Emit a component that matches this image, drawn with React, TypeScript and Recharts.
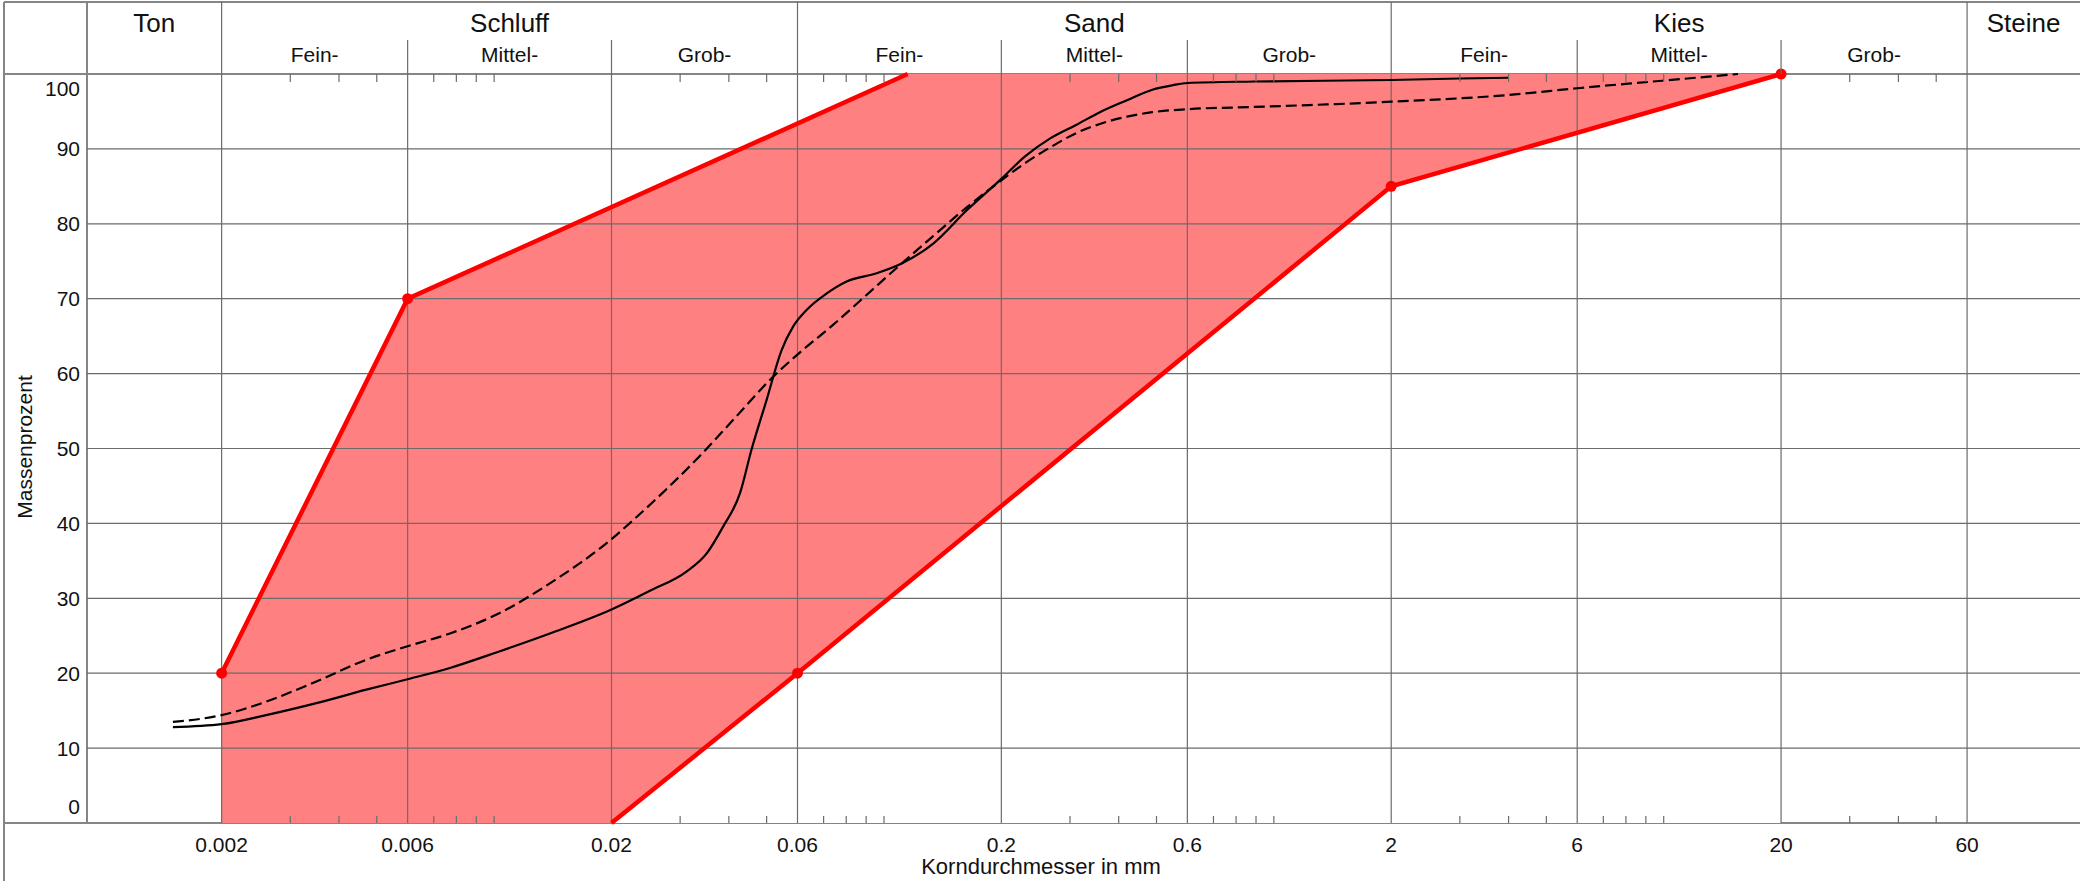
import { ComposedChart, XAxis, YAxis, Line, Area, Scatter, ReferenceLine, Customized } from "recharts";

const FONT = '"Liberation Sans", Arial, Helvetica, sans-serif';
const GRID = "#6b6b6b";
const FRAME = "#858585";

// Achsenbereich (log), so wie im Original abgeschnitten
const X_MIN = 0.000903;
const X_MAX = 116.9;
const PLOT_TOP = 74;
const PLOT_BOTTOM = 823;

// Kornfraktionen
const mainBounds = [0.002, 0.06, 2, 60];
const subBounds = [0.006, 0.02, 0.2, 0.6, 6, 20];
const xLabels = [0.002, 0.006, 0.02, 0.06, 0.2, 0.6, 2, 6, 20, 60];
const minorTicks = [
	0.003, 0.004, 0.005, 0.007, 0.008, 0.009, 0.01, 0.03, 0.04, 0.05, 0.07, 0.08, 0.09, 0.1, 0.3, 0.4,
	0.5, 0.7, 0.8, 0.9, 1, 3, 4, 5, 7, 8, 9, 10, 30, 40, 50,
];
const yTicks = [0, 10, 20, 30, 40, 50, 60, 70, 80, 90, 100];

const groupNames = ["Ton", "Schluff", "Sand", "Kies", "Steine"];
const groupEdges = [X_MIN, 0.002, 0.06, 2, 60, X_MAX];
const subNames = ["Fein-", "Mittel-", "Grob-"];
const subEdges = [0.002, 0.006, 0.02, 0.06, 0.2, 0.6, 2, 6, 20, 60];

// Grenzsieblinien (Sollbereich)
const envUpperX = [0.002, 0.006, 0.115, 20];
const envUpperY = [20, 70, 100, 100];
const envLowerX = [0.02, 0.06, 2, 20];
const envLowerY = [0, 20, 85, 100];
const envDotX = [0.002, 0.006, 0.06, 2, 20];
const envDotY = [20, 70, 20, 85, 100];

// Sieblinie 1 (durchgezogen)
const solidX = [
	0.0015, 0.002, 0.0026, 0.0035, 0.0047, 0.006, 0.0077, 0.0103, 0.0139, 0.02, 0.0251, 0.0312, 0.0351,
	0.0387, 0.0427, 0.0457, 0.05, 0.0546, 0.0585, 0.0633, 0.0713, 0.0802, 0.0957, 0.111, 0.134, 0.163,
	0.2, 0.23, 0.267, 0.311, 0.361, 0.42, 0.488, 0.55, 0.6, 0.89, 2, 3, 4,
];
const solidY = [
	12.8, 13.2, 14.4, 16.0, 17.8, 19.2, 20.7, 22.9, 25.3, 28.5, 31.0, 33.6, 36.0, 39.6, 44.0, 49.8, 56.5,
	63.1, 66.3, 68.5, 70.7, 72.3, 73.4, 74.7, 77.4, 81.8, 86.0, 89.0, 91.4, 93.2, 95.0, 96.5, 97.9, 98.5,
	98.8, 99.0, 99.2, 99.4, 99.5,
];

// Sieblinie 2 (gestrichelt)
const dashedX = [
	0.0015, 0.002, 0.0026, 0.0035, 0.0047, 0.006, 0.0077, 0.0103, 0.0139, 0.02, 0.0228, 0.0277, 0.0337,
	0.041, 0.052, 0.0608, 0.074, 0.0902, 0.111, 0.134, 0.163, 0.2, 0.23, 0.267, 0.311, 0.361, 0.42,
	0.488, 0.6, 0.89, 2, 4, 6, 9.9, 15.5,
];
const dashedY = [
	13.5, 14.4, 16.2, 18.9, 21.8, 23.6, 25.3, 28.0, 32.0, 37.9, 40.5, 44.6, 49.0, 53.8, 59.6, 62.8, 66.5,
	70.5, 74.7, 78.4, 82.2, 85.8, 88.1, 90.2, 92.1, 93.4, 94.3, 94.9, 95.3, 95.6, 96.3, 97.2, 98.1, 99.1,
	100,
];

const toPts = (xs: number[], ys: number[]) => xs.map((x, i) => ({ x, y: ys[i] }));
const near = (a: number, b: number) => Math.abs(a - b) / b < 1e-9;

const groupCenters = groupNames.map((_, i) => Math.sqrt(groupEdges[i] * groupEdges[i + 1]));
const subCenters = subEdges.slice(0, -1).map((e, i) => Math.sqrt(e * subEdges[i + 1]));

// alle Positionen, an denen die untere Achse etwas zeichnet
const allTicks = [...xLabels, ...minorTicks, ...groupCenters, ...subCenters]
	.sort((a, b) => a - b)
	.filter((v, i, arr) => i === 0 || !near(v, arr[i - 1]));

const txt = { fontFamily: FONT, fill: "#111" };

const AxisTick = (props: any) => {
	const { x, payload } = props;
	const v = payload.value;
	const parts: any[] = [];
	if (xLabels.includes(v)) {
		parts.push(
			<text key="l" x={x} y={852} textAnchor="middle" fontSize={21} {...txt}>
				{v}
			</text>,
		);
	}
	if (mainBounds.includes(v)) {
		parts.push(<line key="m" x1={x} x2={x} y1={2} y2={PLOT_TOP} stroke={GRID} strokeWidth={1.2} />);
	}
	if (subBounds.includes(v)) {
		parts.push(<line key="s" x1={x} x2={x} y1={40} y2={PLOT_TOP} stroke={GRID} strokeWidth={1.2} />);
	}
	if (minorTicks.includes(v)) {
		parts.push(
			<line key="b" x1={x} x2={x} y1={PLOT_BOTTOM} y2={PLOT_BOTTOM - 7} stroke={GRID} strokeWidth={1.2} />,
			<line key="t" x1={x} x2={x} y1={PLOT_TOP} y2={PLOT_TOP + 8} stroke={GRID} strokeWidth={1.2} />,
		);
	}
	const gi = groupCenters.findIndex((c) => near(v, c));
	if (gi >= 0) {
		parts.push(
			<text key="g" x={x} y={32} textAnchor="middle" fontSize={26} {...txt}>
				{groupNames[gi]}
			</text>,
		);
	}
	const si = subCenters.findIndex((c) => near(v, c));
	if (si >= 0) {
		parts.push(
			<text key="f" x={x} y={62} textAnchor="middle" fontSize={21} {...txt}>
				{subNames[si % 3]}
			</text>,
		);
	}
	return <g>{parts}</g>;
};

const YTick = (props: any) => {
	const { y, payload } = props;
	const v = payload.value;
	const dy = v === 100 ? 14 : v === 0 ? -16.5 : 0;
	return (
		<text x={80} y={y + dy} dy="0.36em" textAnchor="end" fontSize={21} {...txt}>
			{v}
		</text>
	);
};

const Frame = () => (
	<g>
		<line x1={4} x2={2080} y1={2} y2={2} stroke={FRAME} strokeWidth={2} />
		<line x1={4} x2={2080} y1={PLOT_TOP} y2={PLOT_TOP} stroke={FRAME} strokeWidth={2} />
		<line x1={4} x2={2080} y1={PLOT_BOTTOM} y2={PLOT_BOTTOM} stroke={FRAME} strokeWidth={2} />
		<line x1={4} x2={4} y1={2} y2={881} stroke={FRAME} strokeWidth={2} />
		<line x1={87} x2={87} y1={2} y2={PLOT_BOTTOM} stroke={FRAME} strokeWidth={2} />
		<text x={1041} y={874} textAnchor="middle" fontSize={22} {...txt}>
			Korndurchmesser in mm
		</text>
		<text x={25} y={447} dy="0.35em" textAnchor="middle" fontSize={21} transform="rotate(-90, 25, 447)" {...txt}>
			Massenprozent
		</text>
	</g>
);

const RedDot = (props: any) => <circle cx={props.cx} cy={props.cy} r={5.5} fill="#ff0000" />;

const App = () => {
	return (
		<div style={{ width: 2080, height: 881, background: "#fff" }}>
			<style>{"body{margin:0}"}</style>
			<ComposedChart width={2080} height={881} margin={{ top: PLOT_TOP, right: 0, bottom: 0, left: 0 }}>
				<XAxis
					dataKey="x"
					type="number"
					scale="log"
					domain={[X_MIN, X_MAX]}
					allowDataOverflow
					ticks={allTicks}
					interval={0}
					tick={<AxisTick />}
					axisLine={false}
					tickLine={false}
					height={881 - PLOT_BOTTOM}
				/>
				<YAxis
					dataKey="y"
					type="number"
					domain={[0, 100]}
					ticks={yTicks}
					interval={0}
					tick={<YTick />}
					axisLine={false}
					tickLine={false}
					width={87}
				/>
				<Area
					data={toPts(envUpperX, envUpperY)}
					dataKey="y"
					type="linear"
					baseValue={0}
					stroke="none"
					fill="#ff8080"
					fillOpacity={1}
					isAnimationActive={false}
				/>
				<Area
					data={toPts(envLowerX, envLowerY)}
					dataKey="y"
					type="linear"
					baseValue={0}
					stroke="none"
					fill="#ffffff"
					fillOpacity={1}
					isAnimationActive={false}
				/>
				{xLabels.map((v) => (
					<ReferenceLine key={"vx" + v} x={v} stroke={GRID} strokeWidth={1.2} />
				))}
				{yTicks.slice(1, -1).map((v) => (
					<ReferenceLine key={"hy" + v} y={v} stroke={GRID} strokeWidth={1.2} />
				))}
				<Line
					data={toPts(envUpperX.slice(0, 3), envUpperY.slice(0, 3))}
					dataKey="y"
					type="linear"
					stroke="#ff0000"
					strokeWidth={4.5}
					dot={false}
					isAnimationActive={false}
				/>
				<Line
					data={toPts(envLowerX, envLowerY)}
					dataKey="y"
					type="linear"
					stroke="#ff0000"
					strokeWidth={4.5}
					dot={false}
					isAnimationActive={false}
				/>
				<Scatter data={toPts(envDotX, envDotY)} dataKey="y" shape={<RedDot />} isAnimationActive={false} />
				<Line
					data={toPts(solidX, solidY)}
					dataKey="y"
					type="monotone"
					stroke="#000"
					strokeWidth={2.2}
					dot={false}
					isAnimationActive={false}
				/>
				<Line
					data={toPts(dashedX, dashedY)}
					dataKey="y"
					type="monotone"
					stroke="#000"
					strokeWidth={2.2}
					strokeDasharray="11 5"
					dot={false}
					isAnimationActive={false}
				/>
				<Customized component={<Frame />} />
			</ComposedChart>
		</div>
	);
};

export default App;
